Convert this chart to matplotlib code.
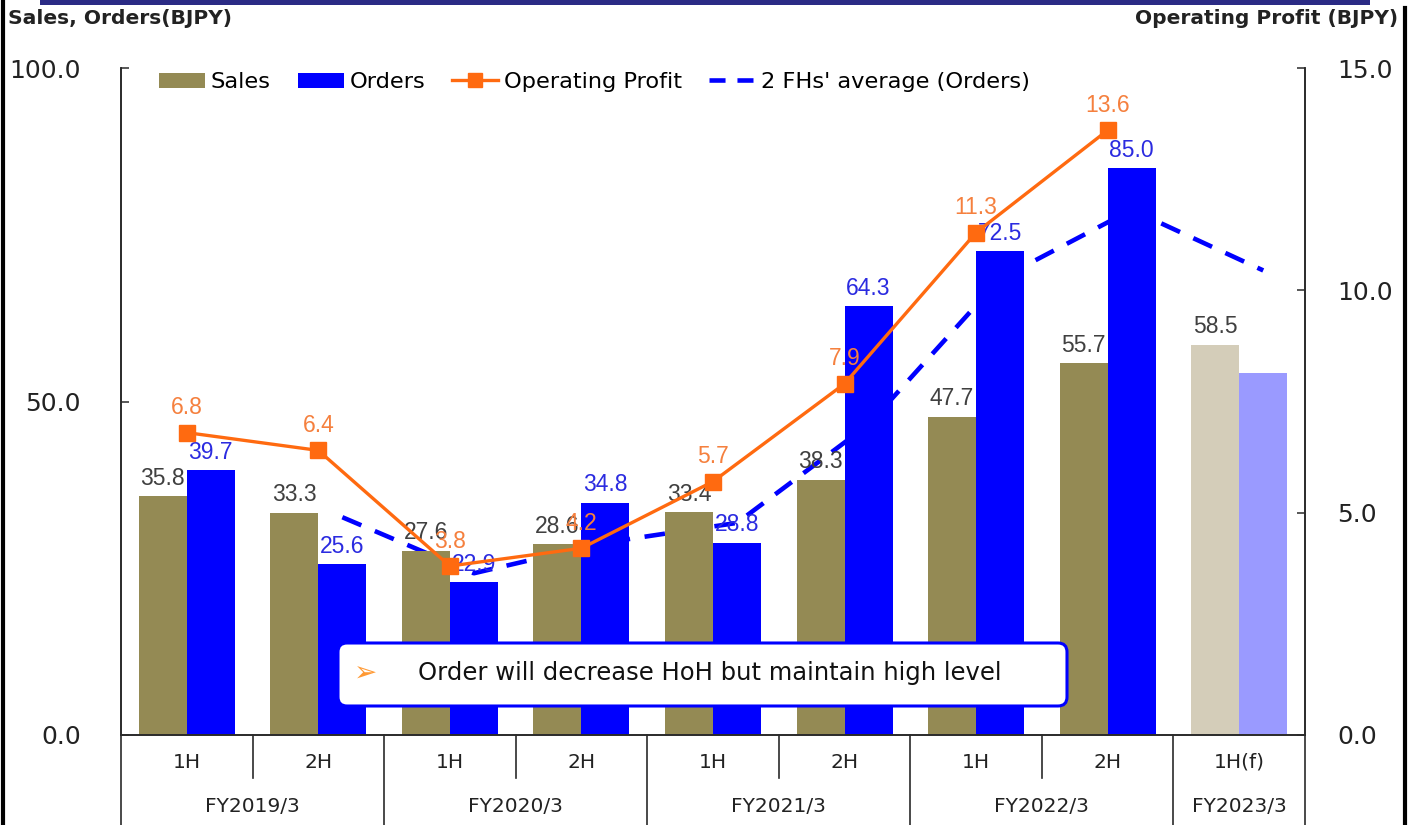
import matplotlib
matplotlib.use("Agg")
import matplotlib.pyplot as plt
from matplotlib.patches import Patch, FancyBboxPatch, Rectangle
from matplotlib.lines import Line2D
import numpy as np

# ---------------- data ----------------
halves = ["1H", "2H", "1H", "2H", "1H", "2H", "1H", "2H", "1H(f)"]
years = ["FY2019/3", "FY2020/3", "FY2021/3", "FY2022/3", "FY2023/3"]
year_spans = [(0, 1), (2, 3), (4, 5), (6, 7), (8, 8)]
sales = [35.8, 33.3, 27.6, 28.6, 33.4, 38.3, 47.7, 55.7, 58.5]
orders = [39.7, 25.6, 22.9, 34.8, 28.8, 64.3, 72.5, 85.0, 54.3]
profit = [6.8, 6.4, 3.8, 4.2, 5.7, 7.9, 11.3, 13.6]
forecast_flags = [False] * 8 + [True]

# ---------------- style ----------------
C_SALES = "#948A54"
C_ORDERS = "#0000FF"
C_SALES_F = "#D4CDB9"
C_ORDERS_F = "#9A9AFF"
C_PROFIT = "#FF6A10"
C_PROFIT_TXT = "#F5803E"
C_SALES_TXT = "#404040"
C_ORDERS_TXT = "#2B2BE0"
SPINE = "#2a2a2a"

W, H = 1418, 825
fig = plt.figure(figsize=(W / 100, H / 100), dpi=100)
fig.patch.set_facecolor("white")

ax = fig.add_axes([121 / W, 1 - 735 / H, (1305 - 121) / W, (735 - 68) / H])
ax2 = ax.twinx()

n = len(sales)
x = np.arange(n)
bw = 0.365

sc = [C_SALES_F if f else C_SALES for f in forecast_flags]
oc = [C_ORDERS_F if f else C_ORDERS for f in forecast_flags]
ax.bar(x - bw / 2, sales, width=bw, color=sc, zorder=2)
ax.bar(x + bw / 2, orders, width=bw, color=oc, zorder=2)

# 2 FHs' average of orders
avg = [(orders[i - 1] + orders[i]) / 2 for i in range(1, n)]
ax.plot(x[1:] + bw / 2, avg, color=C_ORDERS, lw=3.3, dashes=(4.5, 3.2),
        zorder=1, solid_capstyle="butt", dash_capstyle="butt")

# profit line
px = x[:len(profit)]
ax2.plot(px, profit, color=C_PROFIT, lw=2.4, marker="s", ms=12,
         markerfacecolor=C_PROFIT, markeredgecolor=C_PROFIT, zorder=3)

ax.set_xlim(-0.5, n - 0.5)
ax.set_ylim(0, 100)
ax2.set_ylim(0, 15)

ax.set_yticks([0, 50, 100])
ax.set_yticklabels(["0.0", "50.0", "100.0"])
ax2.set_yticks([0, 5, 10, 15])
ax2.set_yticklabels(["0.0", "5.0", "10.0", "15.0"])
ax.tick_params(axis="y", direction="in", length=6, width=1.1, color=SPINE,
               labelsize=18, pad=29, labelcolor="#222222")
ax2.tick_params(axis="y", direction="in", length=6, width=1.1, color=SPINE,
                labelsize=18, pad=23, labelcolor="#222222")
ax.set_xticks([])
ax2.set_xticks([])

for a in (ax, ax2):
    a.spines["top"].set_visible(False)
    for s in ("left", "right", "bottom"):
        a.spines[s].set_color(SPINE)
        a.spines[s].set_linewidth(1.2)

# value labels
LBL = 16.5
for i in range(n):
    ax.annotate(f"{sales[i]:.1f}", (x[i] - bw / 2, sales[i]), xytext=(0, 18),
                textcoords="offset pixels", ha="center", va="center",
                fontsize=LBL, family="Liberation Sans", color=C_SALES_TXT, zorder=5)
    if not forecast_flags[i]:
        ax.annotate(f"{orders[i]:.1f}", (x[i] + bw / 2, orders[i]), xytext=(0, 18),
                    textcoords="offset pixels", ha="center", va="center",
                    fontsize=LBL, family="Liberation Sans", color=C_ORDERS_TXT, zorder=5)
for i, v in enumerate(profit):
    ax2.annotate(f"{v:.1f}", (px[i], v), xytext=(0, 25),
                 textcoords="offset pixels", ha="center", va="center",
                 fontsize=LBL, family="Liberation Sans", color=C_PROFIT_TXT, zorder=5)

# category axis (two levels)
tr = ax.get_xaxis_transform()
y_half = (735 - 762) / 667
y_year = (735 - 806) / 667
y_short = (735 - 778) / 667
y_long = (735 - 826) / 667
for i, lab in enumerate(halves):
    ax.text(x[i], y_half, lab, transform=tr, ha="center", va="center",
            fontsize=14.5, color="#222222", clip_on=False)
for (a0, a1), lab in zip(year_spans, years):
    ax.text((a0 + a1) / 2, y_year, lab, transform=tr, ha="center", va="center",
            fontsize=14.5, color="#222222", clip_on=False)
    ax.add_line(Line2D([a0 - 0.5, a0 - 0.5], [0, y_long], transform=tr,
                       color=SPINE, lw=1.2, clip_on=False))
    if a1 > a0:
        for b in range(a0, a1):
            ax.add_line(Line2D([b + 0.5, b + 0.5], [0, y_short], transform=tr,
                               color=SPINE, lw=1.2, clip_on=False))
ax.add_line(Line2D([n - 0.5, n - 0.5], [0, y_long], transform=tr,
                   color=SPINE, lw=1.2, clip_on=False))

# legend
handles = [
    Patch(facecolor=C_SALES, edgecolor="none"),
    Patch(facecolor=C_ORDERS, edgecolor="none"),
    Line2D([], [], color=C_PROFIT, lw=2.4, marker="s", ms=10),
    Line2D([], [], color=C_ORDERS, lw=3.3, dashes=(3.5, 2.6)),
]
labels = ["Sales", "Orders", "Operating Profit", "2 FHs' average (Orders)"]
fig.legend(handles, labels, loc="center left", bbox_to_anchor=(159 / W, 1 - 82 / H),
           ncol=4, frameon=False, fontsize=16.2, handlelength=2.05, handleheight=0.65,
           handletextpad=0.25, columnspacing=1.2, borderpad=0, borderaxespad=0)

# axis titles
fig.text(8 / W, 1 - 18 / H, "Sales, Orders(BJPY)", ha="left", va="center",
         fontsize=14.6, fontweight="bold", color="#222222")
fig.text(1398 / W, 1 - 18 / H, "Operating Profit (BJPY)", ha="right", va="center",
         fontsize=14.5, fontweight="bold", color="#222222")

# annotation box
box = FancyBboxPatch((3.38, (825 - 706) / 100), 7.29, 0.63,
                     boxstyle="round,pad=0,rounding_size=0.09",
                     transform=fig.dpi_scale_trans, facecolor="white",
                     edgecolor="#0000FF", lw=2.2, zorder=20)
fig.add_artist(box)
fig.text(366 / W, 1 - 674 / H, "\u27a2", ha="center", va="center", fontsize=20,
         color="#FF9933", zorder=21, family="DejaVu Sans")
fig.text(418 / W, 1 - 673 / H, "Order will decrease HoH but maintain high level",
         ha="left", va="center", fontsize=17.5, family="DejaVu Sans",
         color="#111111", zorder=21)

# frame decorations
fig.add_artist(Rectangle((40 / W, 1 - 5 / H), (1370 - 40) / W, 5 / H,
                         transform=fig.transFigure, facecolor="#2B2B85",
                         edgecolor="none", zorder=30))
fig.add_artist(Line2D([3 / W, 3 / W], [0, 1], transform=fig.transFigure,
                      color="black", lw=3, zorder=30))
fig.add_artist(Line2D([1405 / W, 1405 / W], [0, 1 - 8 / H], transform=fig.transFigure,
                      color="black", lw=3, zorder=30))

fig.savefig("out.png", dpi=100)
